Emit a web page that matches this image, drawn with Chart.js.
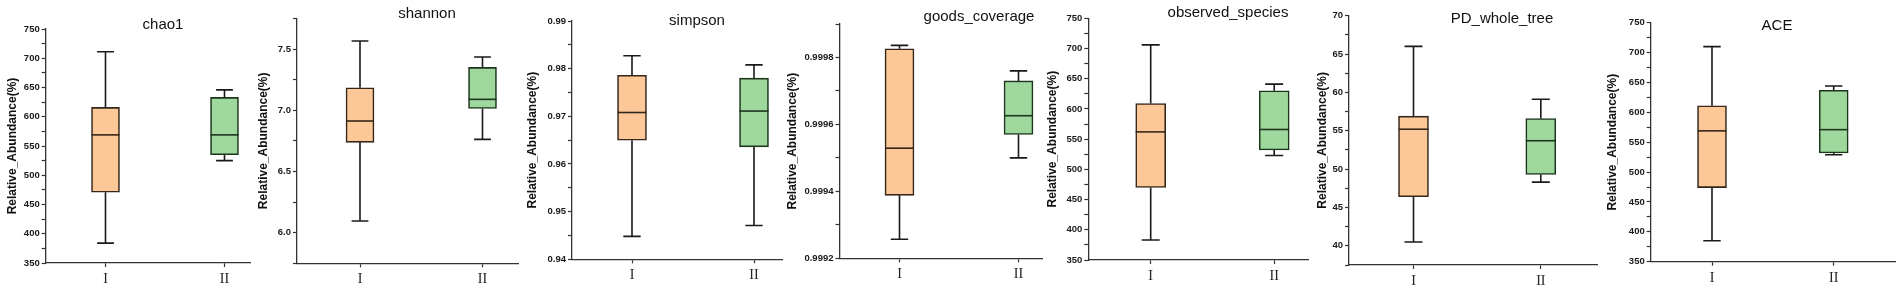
<!DOCTYPE html>
<html>
<head>
<meta charset="utf-8">
<script src="https://cdn.jsdelivr.net/npm/chart.js@4.4.1/dist/chart.umd.min.js"></script>
<style>
  html, body { margin: 0; padding: 0; background: #fff; }
  #wrap { position: relative; width: 1902px; height: 294px; overflow: hidden; background: #fff; }
  .panel { position: absolute; top: 0; height: 294px; }
</style>
</head>
<body>
<div id="wrap"></div>
<script>
const groups = ["I", "II"];

// box stats for each group: [min, q1, median, q3, max]
const chao1I = [384, 471, 569, 616, 711];
const chao1II = [525, 535, 569, 633, 646];
const shannonI = [6.095, 6.738, 6.912, 7.184, 7.565];
const shannonII = [6.762, 7.015, 7.089, 7.35, 7.435];
const simpsonI = [0.9448, 0.965, 0.9708, 0.9786, 0.9827];
const simpsonII = [0.9471, 0.9636, 0.9711, 0.978, 0.9808];
const goodsI = [0.999257, 0.999388, 0.999529, 0.999826, 0.999836];
const goodsII = [0.9995, 0.99957, 0.999626, 0.99973, 0.99976];
const observedI = [383, 470, 562, 609, 706];
const observedII = [523, 532, 566, 630, 641];
const pdI = [40.5, 46.4, 55.2, 56.9, 66.0];
const pdII = [48.3, 49.3, 53.7, 56.6, 59.1];
const aceI = [385, 474, 569, 611, 710];
const aceII = [529, 532, 571, 637, 644];

// labelled y ticks
const countTicks = [350, 400, 450, 500, 550, 600, 650, 700, 750];
const shannonTicks = [6.0, 6.5, 7.0, 7.5];
const simpsonTicks = [0.94, 0.95, 0.96, 0.97, 0.98, 0.99];
const goodsTicks = [0.9992, 0.9994, 0.9996, 0.9998];
const pdTicks = [40, 45, 50, 55, 60, 65, 70];

const boxFill = ["#fdc898", "#9fd89c"];
const boxLine = ["#35261a", "#1c361d"];
const sans = "'Liberation Sans', Arial, sans-serif";
const serif = "'Liberation Serif', 'Times New Roman', serif";

const panels = [
  { title: "chao1", stats: [chao1I, chao1II], ticks: countTicks, yMin: 350, yMax: 750, dec: 0,
    axisX: 45.7, right: 250, top: 29, bottom: 263, yTitleX: 13, centers: [105.5, 224.5], barW: 28, titleX: 163, titleY: 25 },
  { title: "shannon", stats: [shannonI, shannonII], ticks: shannonTicks, yMin: 5.75, yMax: 7.75, dec: 1,
    axisX: 297, right: 518, top: 18.4, bottom: 263.3, yTitleX: 263.3, centers: [360, 482.5], barW: 28, titleX: 427, titleY: 14 },
  { title: "simpson", stats: [simpsonI, simpsonII], ticks: simpsonTicks, yMin: 0.94, yMax: 0.99, dec: 2,
    axisX: 572, right: 782, top: 21, bottom: 259.3, yTitleX: 533, centers: [632, 754], barW: 29, titleX: 697, titleY: 21 },
  { title: "goods_coverage", stats: [goodsI, goodsII], ticks: goodsTicks, yMin: 0.9992, yMax: 0.9999, dec: 4,
    axisX: 839.5, right: 1042, top: 24, bottom: 258.3, yTitleX: 793, centers: [899.5, 1018.5], barW: 29, titleX: 979, titleY: 17 },
  { title: "observed_species", stats: [observedI, observedII], ticks: countTicks, yMin: 350, yMax: 750, dec: 0,
    axisX: 1088.3, right: 1308, top: 18.3, bottom: 260, yTitleX: 1053, centers: [1150.7, 1274.2], barW: 30, titleX: 1228, titleY: 13 },
  { title: "PD_whole_tree", stats: [pdI, pdII], ticks: pdTicks, yMin: 37.5, yMax: 70, dec: 0,
    axisX: 1349, right: 1597, top: 15.7, bottom: 265, yTitleX: 1323, centers: [1413.5, 1540.8], barW: 30, titleX: 1502, titleY: 19 },
  { title: "ACE", stats: [aceI, aceII], ticks: countTicks, yMin: 350, yMax: 750, dec: 0,
    axisX: 1650.7, right: 1895, top: 22.7, bottom: 261.7, yTitleX: 1613, centers: [1712, 1833.7], barW: 29, titleX: 1777, titleY: 26 }
];

const wrap = document.getElementById("wrap");

panels.forEach((p) => {
  const left = Math.floor(p.yTitleX - 9);
  const width = Math.ceil(p.right + 4 - left);
  const canvas = document.createElement("canvas");
  canvas.className = "panel";
  canvas.style.left = left + "px";
  canvas.style.width = width + "px";
  canvas.width = width;
  canvas.height = 294;
  wrap.appendChild(canvas);

  // x scale range so the two groups land where they are in the figure
  const unit = p.centers[1] - p.centers[0];
  const xMin = 1 - (p.centers[0] - p.axisX) / unit;
  const xMax = 2 + (p.right - p.centers[1]) / unit;

  // majors plus one minor tick between each pair
  const half = (p.ticks[1] - p.ticks[0]) / 2;
  const nSteps = Math.round((p.yMax - p.yMin) / half);
  const allTicks = [];
  for (let k = 0; k <= nSteps; k++) allTicks.push(p.yMin + k * half);
  const isMajor = (v) => p.ticks.some((t) => Math.abs(t - v) < half * 0.01);

  const whiskers = {
    id: "whiskers",
    afterDatasetsDraw(chart) {
      const { ctx, scales: { x, y } } = chart;
      ctx.save();
      ctx.lineWidth = 1.6;
      p.stats.forEach((s, i) => {
        const cx = x.getPixelForValue(i + 1);
        const hw = p.barW / 2;
        const cap = p.barW * 0.3;
        const [mn, q1, md, q3, mx] = s.map((v) => y.getPixelForValue(v));
        ctx.strokeStyle = "#1a1a1a";
        ctx.beginPath();
        ctx.moveTo(cx, q3); ctx.lineTo(cx, mx);
        ctx.moveTo(cx - cap, mx); ctx.lineTo(cx + cap, mx);
        ctx.moveTo(cx, q1); ctx.lineTo(cx, mn);
        ctx.moveTo(cx - cap, mn); ctx.lineTo(cx + cap, mn);
        ctx.stroke();
        ctx.strokeStyle = boxLine[i];
        ctx.beginPath();
        ctx.moveTo(cx - hw, md); ctx.lineTo(cx + hw, md);
        ctx.stroke();
      });
      ctx.restore();
    }
  };

  const panelTitle = {
    id: "panelTitle",
    afterDraw(chart) {
      const ctx = chart.ctx;
      ctx.save();
      ctx.font = "15px " + sans;
      ctx.fillStyle = "#111";
      ctx.textAlign = "center";
      ctx.textBaseline = "middle";
      ctx.fillText(p.title, p.titleX - left, p.titleY);
      ctx.restore();
    }
  };

  new Chart(canvas, {
    type: "bar",
    data: {
      datasets: [{
        data: p.stats.map((s, i) => ({ x: i + 1, y: [s[1], s[3]] })),
        backgroundColor: boxFill,
        borderColor: boxLine,
        borderWidth: 1.6,
        borderSkipped: false,
        barThickness: p.barW,
        grouped: false
      }]
    },
    options: {
      responsive: false,
      animation: false,
      events: [],
      layout: { padding: { left: 0, right: left + width - p.right, top: p.top, bottom: 0 } },
      plugins: { legend: { display: false }, tooltip: { enabled: false } },
      scales: {
        x: {
          type: "linear",
          min: xMin,
          max: xMax,
          bounds: "data",
          offset: false,
          afterBuildTicks: (axis) => { axis.ticks = groups.map((g, i) => ({ value: i + 1 })); },
          afterFit: (axis) => { axis.height = 294 - p.bottom; },
          ticks: {
            autoSkip: false,
            maxRotation: 0,
            padding: 4,
            color: "#222",
            font: { family: serif, size: 14 },
            callback: (v) => groups[Math.round(v) - 1] || ""
          },
          grid: { display: true, drawOnChartArea: false, offset: false, tickLength: 4, tickColor: "#333", tickWidth: 1.2 },
          border: { display: true, color: "#333", width: 1.3 }
        },
        y: {
          min: p.yMin,
          max: p.yMax,
          bounds: "data",
          afterBuildTicks: (axis) => { axis.ticks = allTicks.map((v) => ({ value: v })); },
          afterFit: (axis) => { axis.width = p.axisX - left; },
          ticks: {
            autoSkip: false,
            padding: 2,
            color: "#1a1a1a",
            font: { family: sans, size: 9.5, weight: "bold" },
            callback: (v) => (isMajor(v) ? Number(v).toFixed(p.dec) : "")
          },
          grid: { display: true, drawOnChartArea: false, tickLength: 4, tickColor: "#333", tickWidth: 1.2 },
          border: { display: true, color: "#333", width: 1.3 },
          title: {
            display: true,
            text: "Relative_Abundance(%)",
            color: "#111",
            font: { family: sans, size: 12, weight: "bold" },
            padding: { top: p.yTitleX - left - 7.2, bottom: 0 }
          }
        }
      }
    },
    plugins: [whiskers, panelTitle]
  });
});
</script>
</body>
</html>
